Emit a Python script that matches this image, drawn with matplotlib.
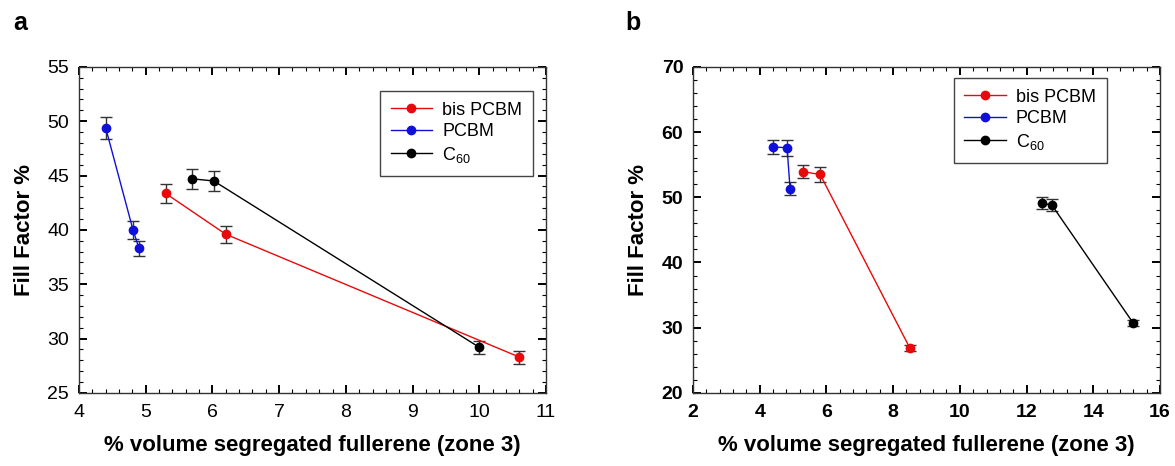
import numpy as np
import matplotlib
matplotlib.use('Agg')
import matplotlib.pyplot as plt
from matplotlib.ticker import MultipleLocator, AutoMinorLocator
from matplotlib.lines import Line2D

plt.rcParams['font.family'] = ['Liberation Sans', 'DejaVu Sans']
plt.rcParams['mathtext.default'] = 'regular'

# panel a data
a_bis_x = [5.3, 6.2, 10.6]
a_bis_y = [43.35, 39.6, 28.3]
a_bis_e = [0.85, 0.8, 0.6]
a_pcbm_x = [4.4, 4.81, 4.9]
a_pcbm_y = [49.4, 40.0, 38.3]
a_pcbm_e = [1.0, 0.8, 0.7]
a_c60_x = [5.69, 6.02, 10.0]
a_c60_y = [44.7, 44.5, 29.2]
a_c60_e = [0.9, 0.9, 0.6]

# panel b data
b_bis_x = [5.31, 5.81, 8.5]
b_bis_y = [53.9, 53.5, 26.9]
b_bis_e = [1.0, 1.1, 0.5]
b_pcbm_x = [4.41, 4.82, 4.91]
b_pcbm_y = [57.7, 57.6, 51.3]
b_pcbm_e = [1.1, 1.2, 1.0]
b_c60_x = [12.45, 12.76, 15.2]
b_c60_y = [49.1, 48.8, 30.7]
b_c60_e = [0.9, 0.9, 0.5]

labels = ['bis PCBM', 'PCBM', r'C$_{60}$']
colors = ['#e8090b', '#1010d8', '#000000']

XLABEL = '% volume segregated fullerene (zone 3)'
YLABEL = 'Fill Factor %'

fig = plt.figure(figsize=(11.75, 4.66), dpi=100)
axa = fig.add_axes([0.0672, 0.1567, 0.3975, 0.700])
axb = fig.add_axes([0.5898, 0.1567, 0.3974, 0.700])


def draw(ax, series):
    for (x, y, e), c in zip(series, colors):
        ax.errorbar(x, y, yerr=e, fmt='o-', color=c, ms=6, lw=1.0,
                    ecolor='#333333', elinewidth=1.0, capsize=4, capthick=1.0)


draw(axa, [(a_bis_x, a_bis_y, a_bis_e), (a_pcbm_x, a_pcbm_y, a_pcbm_e),
           (a_c60_x, a_c60_y, a_c60_e)])
draw(axb, [(b_bis_x, b_bis_y, b_bis_e), (b_pcbm_x, b_pcbm_y, b_pcbm_e),
           (b_c60_x, b_c60_y, b_c60_e)])

axa.set_xlim(4, 11)
axa.set_ylim(25, 55)
axa.xaxis.set_major_locator(MultipleLocator(1))
axa.yaxis.set_major_locator(MultipleLocator(5))
axb.set_xlim(2, 16)
axb.set_ylim(20, 70)
axb.xaxis.set_major_locator(MultipleLocator(2))
axb.yaxis.set_major_locator(MultipleLocator(10))

handles = [Line2D([], [], color=c, lw=1.0, marker='o', ms=6) for c in colors]
leg_anchor = {False: (0.972, 0.926), True: (0.886, 0.966)}

for ax, bold in ((axa, False), (axb, True)):
    ax.xaxis.set_minor_locator(AutoMinorLocator(5))
    ax.yaxis.set_minor_locator(AutoMinorLocator(5))
    ax.tick_params(which='both', direction='in', top=True, right=True)
    ax.tick_params(which='major', length=6, width=1.4, labelsize=14)
    ax.tick_params(axis='x', which='major', pad=8)
    ax.tick_params(axis='y', which='major', pad=7)
    ax.tick_params(which='minor', length=3, width=0.8)
    for s in ax.spines.values():
        s.set_linewidth(1.0)
        s.set_color('#333333')
    if bold:
        for t in ax.get_xticklabels() + ax.get_yticklabels():
            t.set_fontweight('bold')
    ax.set_xlabel(XLABEL, fontsize=16, fontweight='bold', labelpad=10)
    ax.set_ylabel(YLABEL, fontsize=16, fontweight='bold', labelpad=9)
    leg = ax.legend(handles, labels, loc='upper right', bbox_to_anchor=leg_anchor[bold],
                    borderaxespad=0, fontsize=13, fancybox=False, framealpha=1,
                    edgecolor='#444444', handlelength=2.3, handletextpad=0.55,
                    borderpad=0.6, labelspacing=0.25)
    leg.get_frame().set_linewidth(1.0)

fig.text(0.011, 0.935, 'a', fontsize=18, fontweight='bold')
fig.text(0.532, 0.935, 'b', fontsize=18, fontweight='bold')

fig.savefig('out.png', dpi=100)
